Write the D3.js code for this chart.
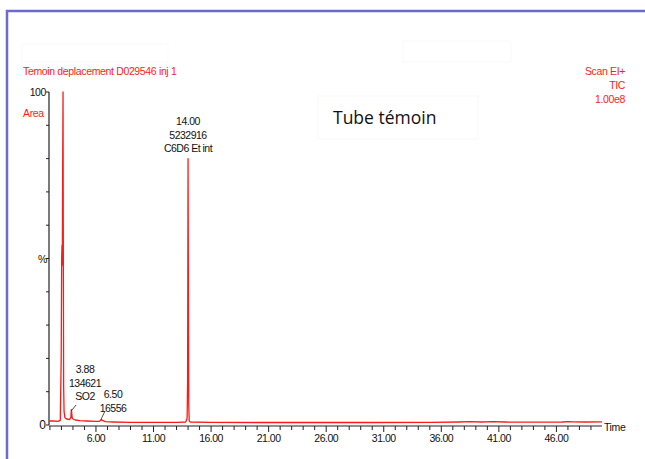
<!DOCTYPE html>
<html><head><meta charset="utf-8">
<script src="https://cdn.jsdelivr.net/npm/d3@7"></script>
<style>
body{margin:0;background:#fff;}
svg text{font-family:"Liberation Sans Narrow","Arial Narrow","Liberation Sans",Arial,sans-serif;}
</style></head>
<body>
<svg id="c" width="645" height="459"></svg>
<script>
// chromatogram trace: retention time (min) and relative intensity (%)
const times  = [1.92,2.3,2.7,2.9,2.98,3.02,3.05,3.08,3.11,3.14,3.16,3.19,3.23,3.3,3.45,3.7,3.82,3.86,3.89,3.93,4.0,4.2,4.6,5.2,6.0,6.3,6.45,6.5,6.6,6.8,7.5,9.0,11.0,13.0,13.8,13.92,13.96,14.0,14.03,14.06,14.1,14.2,16,20,25,30,35,37.5,38.5,39.5,40.5,41.5,43,45,46.5,47,47.5,48.5,49.96];
const values = [1.2,1.2,1.1,1.4,20,50,54,48,80,100,60,12,4,2.2,1.8,1.6,2.2,4.6,3.8,2.2,1.8,1.5,1.3,1.2,1.1,1.1,1.5,1.6,1.3,1.0,0.9,0.8,0.8,0.8,0.9,2,13,80,40,6,1.2,0.9,0.8,0.75,0.75,0.75,0.8,0.9,1.0,0.9,1.0,0.9,0.85,0.85,0.9,1.0,0.95,0.9,0.95];
const xTickLabels = ["6.00","11.00","16.00","21.00","26.00","31.00","36.00","41.00","46.00"];
const peakLabels = [
  {t:3.89, lines:["3.88","134621","SO2"]},
  {t:6.5,  lines:["6.50","16556"]},
  {t:14.0, lines:["14.00","5232916","C6D6 Et int"]}
];
const headerLeft = "Temoin deplacement D029546 inj 1";
const headerRight = ["Scan EI+","TIC","1.00e8"];
const boxTitle = "Tube témoin";

const svg = d3.select("#c");
const red = "#ff1a1a";

// frame
svg.append("path").attr("d","M7,470 L7,11 L660,11").attr("fill","none")
  .attr("stroke","#6a6ad2").attr("stroke-width",2.5);
// faint boxes
svg.append("rect").attr("x",22).attr("y",44).attr("width",146).attr("height",18).attr("fill","none").attr("stroke","#f9f9f9");
svg.append("rect").attr("x",403).attr("y",41).attr("width",108).attr("height",21).attr("fill","none").attr("stroke","#f9f9f9");
svg.append("rect").attr("x",318).attr("y",96).attr("width",160).attr("height",43).attr("fill","none").attr("stroke","#f8f8f8");

const x = d3.scaleLinear().domain([1.92,49.96]).range([49,602]);
const y = d3.scaleLinear().domain([0,100]).range([425,92]);

// header texts
svg.append("text").attr("x",23).attr("y",75).attr("fill",red).attr("font-size",10.5).attr("letter-spacing",-0.35).text(headerLeft);
headerRight.forEach((s,i)=>svg.append("text").attr("x",625).attr("y",75+i*14).attr("text-anchor","end")
  .attr("fill",red).attr("font-size",10.5).attr("letter-spacing",-0.35).text(s));
svg.append("text").attr("x",23).attr("y",117).attr("fill",red).attr("font-size",10.5).attr("letter-spacing",-0.35).text("Area");
svg.append("text").attr("x",333).attr("y",124).attr("fill","#111").attr("font-size",17.5)
  .style("font-family","'Open Sans',Calibri,sans-serif").text(boxTitle);

// y axis
svg.append("line").attr("x1",49).attr("x2",49).attr("y1",y(100)).attr("y2",y(0)).attr("stroke","#222").attr("stroke-width",1.2);
d3.range(0,101,10).forEach(v=>{
  svg.append("line").attr("x1",46).attr("x2",49).attr("y1",y(v)).attr("y2",y(v)).attr("stroke","#222");
});
svg.append("text").attr("x",46).attr("y",y(100)+4).attr("text-anchor","end").attr("font-size",10.5).attr("letter-spacing",-0.4).attr("fill","#111").text("100");
svg.append("text").attr("x",46).attr("y",y(0)+4).attr("text-anchor","end").attr("font-size",12).attr("fill","#111").text("0");
svg.append("text").attr("x",38).attr("y",y(50)+4).attr("font-size",10.5).attr("fill","#111").text("%");

// x axis
svg.append("line").attr("x1",49).attr("x2",602).attr("y1",426).attr("y2",426).attr("stroke","#222").attr("stroke-width",1.2);
d3.range(2,50,1).forEach(t=>{
  const major = (t-1)%5===0;
  svg.append("line").attr("x1",x(t)).attr("x2",x(t)).attr("y1",426).attr("y2",major?432:430).attr("stroke","#222");
});
xTickLabels.forEach(s=>{
  svg.append("text").attr("x",x(+s)).attr("y",442).attr("text-anchor","middle").attr("font-size",10.5)
    .attr("letter-spacing",-0.5).attr("fill","#111").text(s);
});
svg.append("text").attr("x",604).attr("y",431).attr("font-size",10.5).attr("letter-spacing",-0.4).attr("fill","#111").text("Time");

// trace
const line = d3.line().x((d,i)=>x(times[i])).y((d,i)=>y(values[i]));
svg.append("path").datum(values).attr("d",line).attr("fill","none").attr("stroke",red).attr("stroke-width",1.3).attr("stroke-linejoin","round");

// peak labels
const lab = [
  {cx:85, y0:373, leader:[[76,405],[x(3.89)-0.5,411]]},
  {cx:113,y0:398, leader:[[105,411],[x(6.5)-1,420]]},
  {cx:188,y0:125, leader:null}
];
peakLabels.forEach((p,i)=>{
  const L = lab[i];
  p.lines.forEach((s,j)=>svg.append("text").attr("x",L.cx).attr("y",L.y0+j*13.5).attr("text-anchor","middle")
    .attr("font-size",10.5).attr("letter-spacing",-0.5).attr("fill","#111").text(s));
  if(L.leader) svg.append("line").attr("x1",L.leader[0][0]).attr("y1",L.leader[0][1]).attr("x2",L.leader[1][0]).attr("y2",L.leader[1][1]).attr("stroke","#222").attr("stroke-width",0.8);
});
</script>
</body></html>
